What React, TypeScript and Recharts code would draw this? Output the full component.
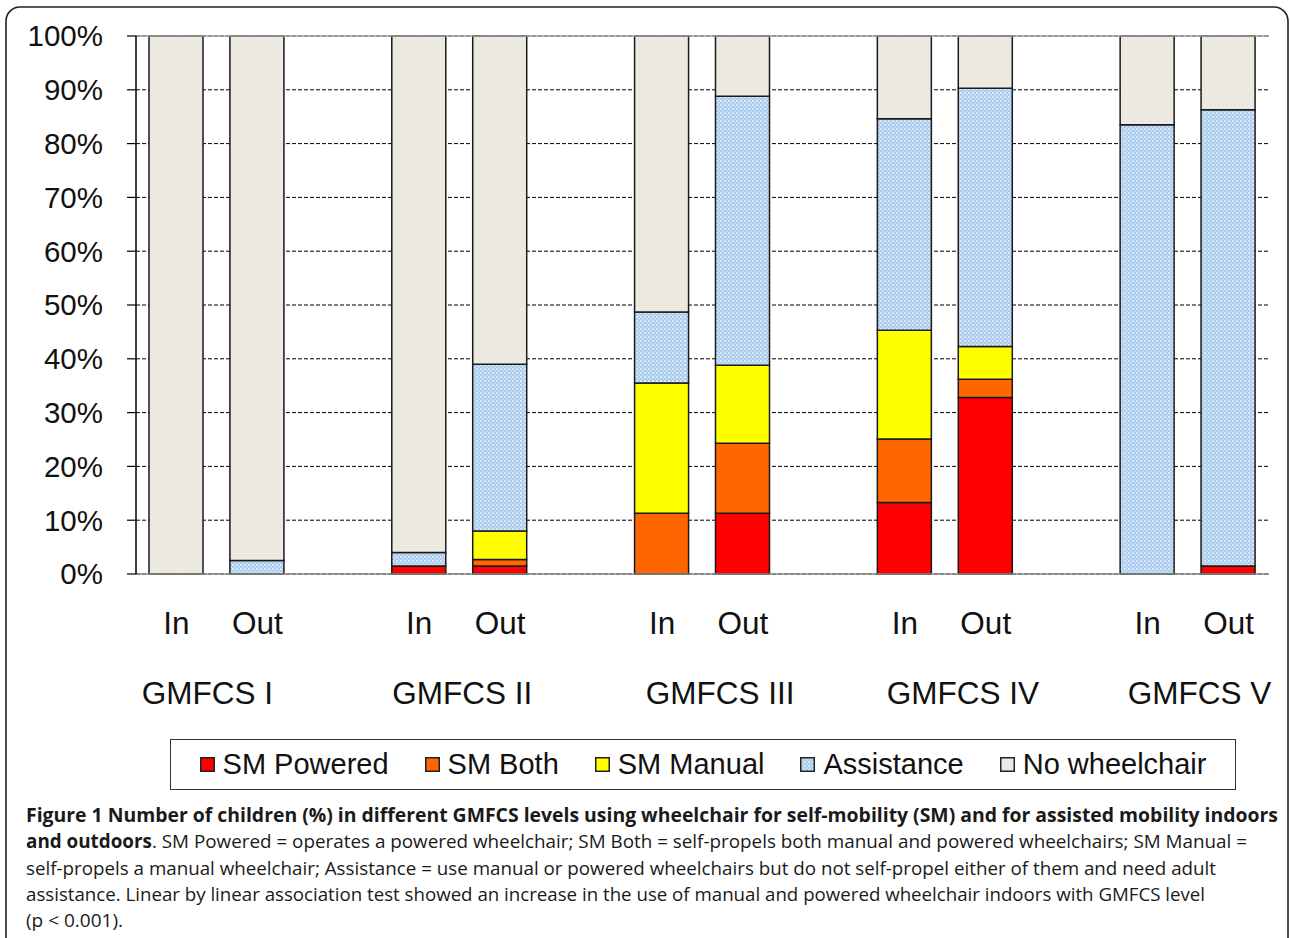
import React from 'react';
import { BarChart, Bar, XAxis, YAxis, CartesianGrid, Legend, ReferenceLine } from 'recharts';

// ---- data ----
const categories = ['I-In', 'I-Out', 'gap-1', 'II-In', 'II-Out', 'gap-2', 'III-In', 'III-Out', 'gap-3', 'IV-In', 'IV-Out', 'gap-4', 'V-In', 'V-Out'];
const tickLabels = ['In', 'Out', '', 'In', 'Out', '', 'In', 'Out', '', 'In', 'Out', '', 'In', 'Out'];
const groupLabels = ['GMFCS I', 'GMFCS II', 'GMFCS III', 'GMFCS IV', 'GMFCS V'];

const smPowered = [0, 0, null, 1.5, 1.5, null, 0, 11.3, null, 13.3, 32.8, null, 0, 1.5];
const smBoth = [0, 0, null, 0, 1.2, null, 11.3, 13.0, null, 11.8, 3.4, null, 0, 0];
const smManual = [0, 0, null, 0, 5.3, null, 24.2, 14.5, null, 20.2, 6.1, null, 0, 0];
const assistance = [0, 2.5, null, 2.5, 31.0, null, 13.2, 50.0, null, 39.3, 48.0, null, 83.5, 84.8];
const noWheelchair = [100, 97.5, null, 96.0, 61.0, null, 51.3, 11.2, null, 15.4, 9.7, null, 16.5, 13.7];

const yTicks = [0, 10, 20, 30, 40, 50, 60, 70, 80, 90, 100];

const seriesNames = ['SM Powered', 'SM Both', 'SM Manual', 'Assistance', 'No wheelchair'];
const seriesKeys = ['powered', 'both', 'manual', 'assistance', 'none'];
const seriesFills = ['#FF0000', '#FF6600', '#FFFF00', 'url(#assistPattern)', '#ECE9E0'];

const data = categories.map((c, i) => ({
  cat: c,
  powered: smPowered[i],
  both: smBoth[i],
  manual: smManual[i],
  assistance: assistance[i],
  none: noWheelchair[i],
}));

const captionLines = [
  { bold: 'Figure 1 Number of children (%) in different GMFCS levels using wheelchair for self-mobility (SM) and for assisted mobility indoors', normal: '', w: 1252 },
  { bold: 'and outdoors', normal: '. SM Powered = operates a powered wheelchair; SM Both = self-propels both manual and powered wheelchairs; SM Manual =', w: 1221 },
  { bold: '', normal: 'self-propels a manual wheelchair; Assistance = use manual or powered wheelchairs but do not self-propel either of them and need adult', w: 1190 },
  { bold: '', normal: 'assistance. Linear by linear association test showed an increase in the use of manual and powered wheelchair indoors with GMFCS level', w: 1179 },
  { bold: '', normal: '(p < 0.001).', w: 0 },
];

// ---- styling constants ----
const AXIS_FONT = '"Liberation Sans", Arial, sans-serif';
const groupLabelOffsets = [31, 43, 58, 58, 52];

const XTick = (props: any) => {
  const { x, y, payload } = props;
  const i = categories.indexOf(payload.value);
  const sub = tickLabels[i];
  const g = i % 3 === 0 ? Math.floor(i / 3) : -1;
  return (
    <g>
      {sub ? (
        <text x={x} y={y + 60} textAnchor="middle" fontFamily={AXIS_FONT} fontSize={31.5} fill="#111">
          {sub}
        </text>
      ) : null}
      {g >= 0 ? (
        <text x={x + groupLabelOffsets[g]} y={y + 130} textAnchor="middle" fontFamily={AXIS_FONT} fontSize={31.5} fill="#111">
          {groupLabels[g]}
        </text>
      ) : null}
    </g>
  );
};

const Marker = ({ fill }: { fill: string }) => (
  <svg width={15} height={15} style={{ marginRight: 8, display: 'block' }}>
    <rect x={0.75} y={0.75} width={13.5} height={13.5} fill={fill} stroke="#222" strokeWidth={1.5} />
  </svg>
);

const renderLegend = () => (
  <div
    style={{
      boxSizing: 'border-box',
      width: 1066,
      height: 51,
      border: '1.5px solid #333',
      display: 'flex',
      alignItems: 'center',
      justifyContent: 'center',
      fontFamily: AXIS_FONT,
      fontSize: 29,
      color: '#111',
      background: '#fff',
    }}
  >
    {seriesNames.map((n, i) => (
      <span key={n} style={{ display: 'flex', alignItems: 'center', marginRight: i < seriesNames.length - 1 ? 36 : 0 }}>
        <Marker fill={seriesFills[i]} />
        {n}
      </span>
    ))}
  </div>
);

export default function App() {
  return (
    <div style={{ position: 'absolute', left: 0, top: 0, width: 1290, height: 938, overflow: 'hidden', background: '#fff' }}>
      <svg width={0} height={0} style={{ position: 'absolute' }}>
        <defs>
          <pattern id="assistPattern" patternUnits="userSpaceOnUse" width={4} height={4}>
            <rect x={0} y={0} width={4} height={4} fill="#A9CCEE" />
            <rect x={0} y={0} width={2} height={2} fill="#D9E9F8" />
            <rect x={2} y={2} width={2} height={2} fill="#C4DCF3" />
          </pattern>
        </defs>
      </svg>
      <svg width={1290} height={938} style={{ position: 'absolute', left: 0, top: 0 }}>
        <rect x={6} y={7} width={1282} height={960} rx={14} ry={14} fill="none" stroke="#222" strokeWidth={1.6} />
        {captionLines.map((l, i) => (
          <text
            key={i}
            x={26}
            y={822 + i * 26.3}
            fontFamily='"Open Sans", "Noto Sans", sans-serif'
            fontSize={19}
            fill="#1a1a1a"
            {...(l.w ? { textLength: l.w, lengthAdjust: 'spacingAndGlyphs' } : {})}
          >
            {l.bold ? <tspan fontWeight="bold">{l.bold}</tspan> : null}
            {l.normal ? <tspan>{l.normal}</tspan> : null}
          </text>
        ))}
      </svg>
      <div style={{ position: 'absolute', left: 0, top: 0 }}>
        <BarChart width={1290} height={800} data={data} margin={{ top: 36, right: 21, left: 0, bottom: 35 }} barSize={54}>
          <CartesianGrid vertical={false} stroke="#000" strokeDasharray="4 2" />
          <XAxis
            dataKey="cat"
            interval={0}
            tick={<XTick />}
            tickLine={false}
            tickSize={0}
            tickMargin={0}
            height={140}
            axisLine={{ stroke: '#8a8a8a', strokeWidth: 1.5 }}
          />
          <YAxis
            type="number"
            domain={[0, 100]}
            ticks={yTicks}
            interval={0}
            width={136}
            tickSize={9}
            tickMargin={24}
            tickFormatter={(v: number) => `${v}%`}
            tick={{ fontFamily: AXIS_FONT, fontSize: 29.5, fill: '#111' }}
            tickLine={{ stroke: '#000', strokeWidth: 1.2 }}
            axisLine={{ stroke: '#000', strokeWidth: 1.5 }}
          />
          <YAxis
            yAxisId="right"
            orientation="right"
            type="number"
            domain={[0, 100]}
            width={0}
            tick={false}
            tickLine={false}
            axisLine={{ stroke: '#a0a0a0', strokeWidth: 1 }}
          />
          <ReferenceLine y={100} stroke="#a0a0a0" strokeWidth={1.5} />
          {seriesKeys.map((k, i) => (
            <Bar
              key={k}
              dataKey={k}
              name={seriesNames[i]}
              stackId="s"
              fill={seriesFills[i]}
              stroke="#1a1a1a"
              strokeWidth={1.5}
              isAnimationActive={false}
            />
          ))}
          <Legend
            verticalAlign="bottom"
            content={renderLegend}
            wrapperStyle={{ left: 170, top: 739, bottom: 'auto', width: 1066, height: 51 }}
          />
        </BarChart>
      </div>
    </div>
  );
}
